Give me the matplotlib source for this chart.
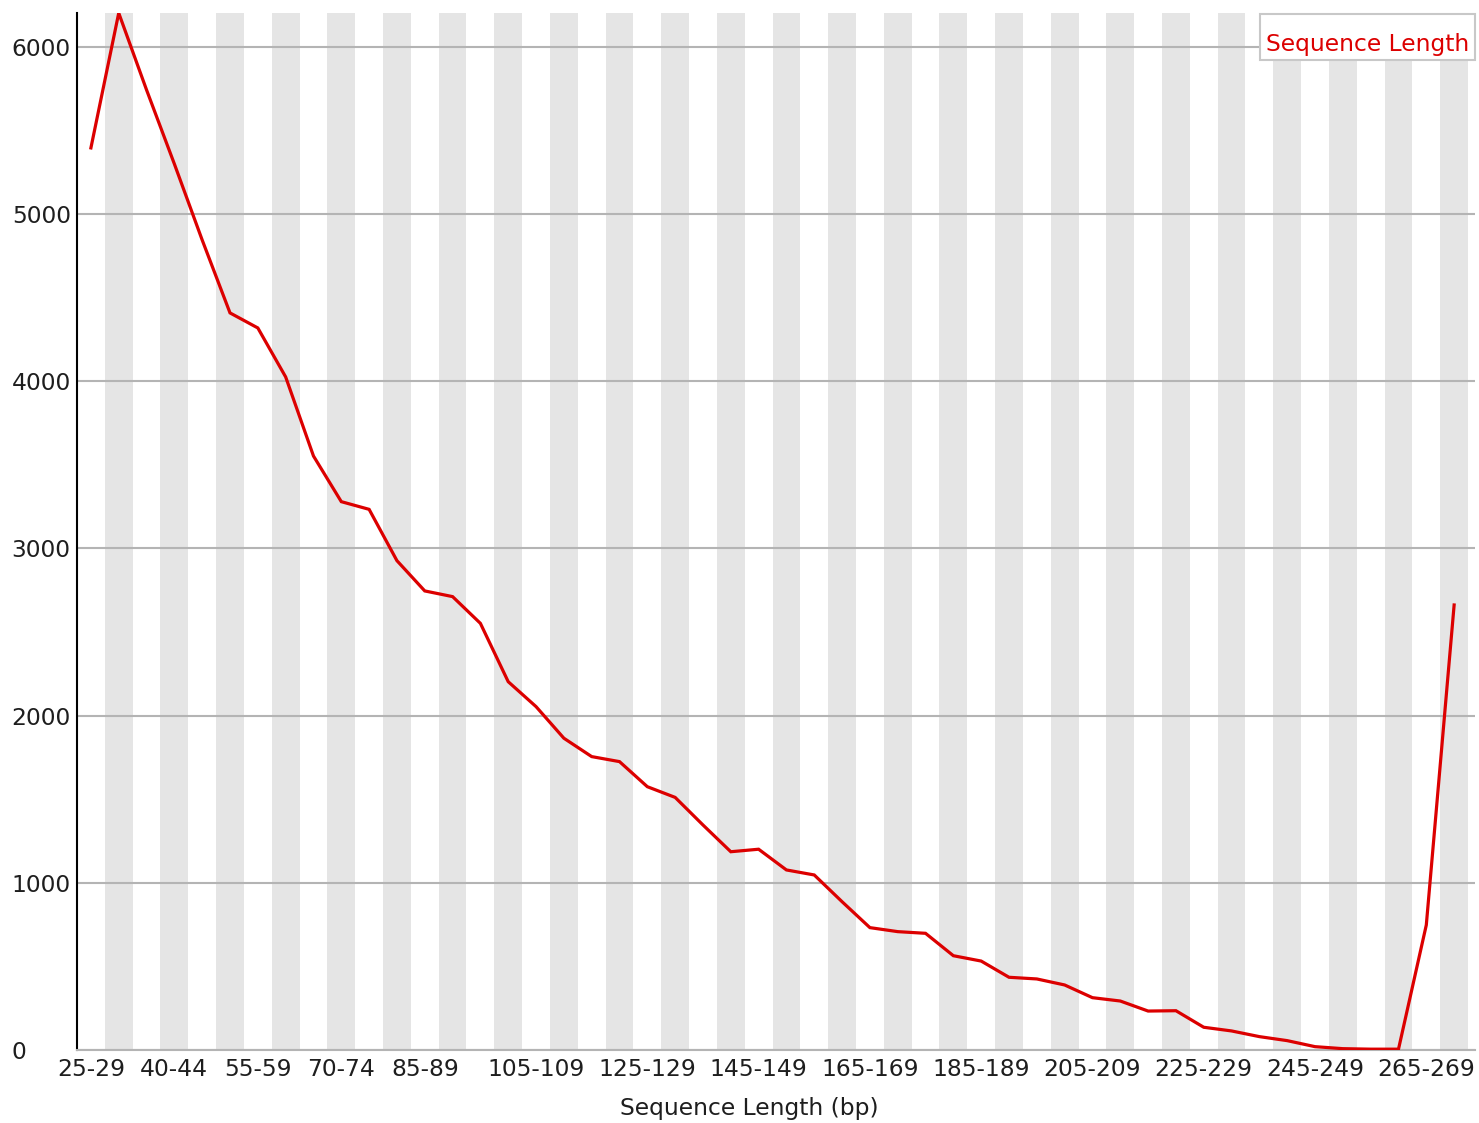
import numpy as np
import matplotlib
matplotlib.use('Agg')
import matplotlib.pyplot as plt
from matplotlib.patches import Rectangle


# length bins, 5 bp wide, last one is the read-length bin
BINS = ['%d-%d' % (s, s + 4) for s in range(25, 270, 5)] + ['270-271']

COUNTS = [5396, 6203, 5743, 5300, 4845, 4409, 4319, 4026, 3553, 3280,
          3234, 2927, 2746, 2712, 2552, 2203, 2054, 1865, 1755, 1725,
          1575, 1511, 1346, 1186, 1201, 1077, 1047, 887, 732, 708,
          698, 564, 532, 435, 425, 389, 313, 293, 233, 235,
          136, 114, 80, 56, 20, 8, 5, 5, 748, 2662]

SHOWN_LABELS = ['25-29', '40-44', '55-59', '70-74', '85-89', '105-109',
                '125-129', '145-149', '165-169', '185-189', '205-209',
                '225-229', '245-249', '265-269']

Y_TICKS = [0, 1000, 2000, 3000, 4000, 5000, 6000]

SERIES_NAME = 'Sequence Length'
X_LABEL = 'Sequence Length (bp)'

RED = '#dc0000'
STRIPE = '#e5e5e5'
GRID = '#b4b4b4'
TEXT = '#1e1e1e'
FS = 16.8


def main():
    plt.rcParams['font.family'] = ['DejaVu Sans']

    fig = plt.figure(figsize=(14.79, 11.23), dpi=100)
    ax = fig.add_axes([77 / 1479, 73 / 1123, 1398 / 1479, 1037 / 1123])

    x = np.arange(len(BINS))

    # alternating grey columns behind every other bin
    for i in x:
        if i % 2 == 1:
            ax.axvspan(i - 0.5, i + 0.5, color=STRIPE, lw=0, zorder=0)

    for v in Y_TICKS:
        ax.axhline(v, color=GRID, lw=1.5, zorder=1)

    ax.plot(x, COUNTS, '-', color=RED, lw=2.3, zorder=3,
            solid_joinstyle='miter')

    ax.set_xlim(-0.5, len(BINS) - 0.25)
    ax.set_ylim(0, max(COUNTS))

    ax.set_xticks([BINS.index(b) for b in SHOWN_LABELS])
    ax.set_xticklabels(SHOWN_LABELS, fontsize=FS, color=TEXT)
    ax.set_yticks(Y_TICKS)
    ax.set_yticklabels([str(v) for v in Y_TICKS], fontsize=FS, color=TEXT)
    for lab in ax.get_yticklabels():
        lab.set_horizontalalignment('left')
    ax.tick_params(axis='y', length=0, pad=47)
    ax.tick_params(axis='x', length=0, pad=6)

    ax.set_xlabel(X_LABEL, fontsize=FS, color=TEXT, labelpad=11)
    ax.xaxis.label.set_x(0.481)

    for side in ['top', 'right']:
        ax.spines[side].set_visible(False)
    ax.spines['bottom'].set_color(GRID)
    ax.spines['bottom'].set_linewidth(1.5)
    ax.spines['left'].set_color('black')
    ax.spines['left'].set_linewidth(1.5)

    # legend box in the top right corner
    ax.add_patch(Rectangle((0.8462, 0.9547), 0.1540, 0.0443,
                           transform=ax.transAxes, fc='white', ec='#c8c8c8',
                           lw=1.5, zorder=5, clip_on=False))
    ax.text(0.8505, 0.9700, SERIES_NAME, transform=ax.transAxes,
            ha='left', va='center', fontsize=FS, color=RED, zorder=6)

    fig.savefig('out.png', dpi=100, facecolor='white')


if __name__ == '__main__':
    main()
